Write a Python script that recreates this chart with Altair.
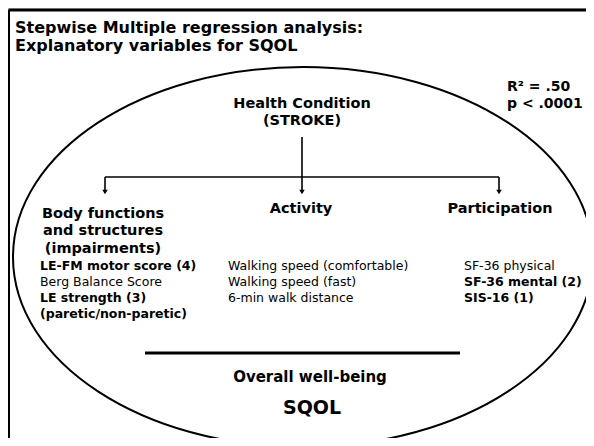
import altair as alt
import pandas as pd

# ---- text content ----
title_lines = ["Stepwise Multiple regression analysis:", "Explanatory variables for SQOL"]
stats_lines = ["R\u00b2 = .50", "p < .0001"]
root_lines = ["Health Condition", "(STROKE)"]
body_header = ["Body functions", "and structures", "(impairments)"]
other_headers = ["Activity", "Participation"]
body_items = ["LE-FM motor score (4)", "Berg Balance Score", "LE strength (3)", "(paretic/non-paretic)"]
body_bold = [True, False, True, True]
activity_items = ["Walking speed (comfortable)", "Walking speed (fast)", "6-min walk distance"]
participation_items = ["SF-36 physical", "SF-36 mental (2)", "SIS-16 (1)"]
participation_bold = [False, True, True]
outcome_lines = ["Overall well-being", "SQOL"]

# ---- layout (page pixel coordinates) ----
W, H = 578, 430
xs = alt.Scale(domain=[8, 8 + W], range=[0, W])
ys = alt.Scale(domain=[8 + H, 8])

item_rows = [270, 286, 302, 318]
FONT = "DejaVu Sans"
ITEM_SIZE = 12.5


def text_layer(texts, xpos, ypos, size, bold, align="left", font=FONT):
    df = pd.DataFrame({"text": texts, "x": xpos, "y": ypos})
    return alt.Chart(df).mark_text(
        align=align, baseline="alphabetic", fontSize=size,
        fontWeight="bold" if bold else "normal", font=font, color="black"
    ).encode(
        x=alt.X("x:Q", scale=xs, axis=None),
        y=alt.Y("y:Q", scale=ys, axis=None),
        text="text:N",
    )


layers = []
layers.append(text_layer(title_lines, [15, 15], [32.5, 50.5], 16, True, font="Comic Sans MS, DejaVu Sans"))
layers.append(text_layer(stats_lines, [507, 507], [91, 108], 14, True))
layers.append(text_layer(root_lines, [302, 302], [108, 125], 14.5, True, align="center"))
layers.append(text_layer(body_header, [103, 103, 103], [218, 235, 253], 14.5, True, align="center"))
layers.append(text_layer(other_headers, [301, 500], [213, 213], 14.5, True, align="center"))

bb = [t for t, b in zip(body_items, body_bold) if b]
bby = [y for y, b in zip(item_rows, body_bold) if b]
bn = [t for t, b in zip(body_items, body_bold) if not b]
bny = [y for y, b in zip(item_rows, body_bold) if not b]
layers.append(text_layer(bb, [40] * len(bb), bby, ITEM_SIZE, True))
layers.append(text_layer(bn, [40] * len(bn), bny, ITEM_SIZE, False))
layers.append(text_layer(activity_items, [228] * 3, item_rows[:3], ITEM_SIZE, False))

pb = [t for t, b in zip(participation_items, participation_bold) if b]
pby = [y for y, b in zip(item_rows, participation_bold) if b]
pn = [t for t, b in zip(participation_items, participation_bold) if not b]
pny = [y for y, b in zip(item_rows, participation_bold) if not b]
layers.append(text_layer(pb, [464] * len(pb), pby, ITEM_SIZE, True))
layers.append(text_layer(pn, [464] * len(pn), pny, ITEM_SIZE, False))

layers.append(text_layer(outcome_lines[:1], [310], [382], 15, True, align="center"))
layers.append(text_layer(outcome_lines[1:], [312], [414], 19, True, align="center"))

# ---- lines ----
def rules(x, x2, y, y2, width):
    df = pd.DataFrame({"x": x, "x2": x2, "y": y, "y2": y2})
    return alt.Chart(df).mark_rule(color="black", strokeWidth=width).encode(
        x=alt.X("x:Q", scale=xs, axis=None), x2="x2:Q",
        y=alt.Y("y:Q", scale=ys, axis=None), y2="y2:Q",
    )

# frame (top and left edges)
layers.append(rules([8.5, 8.5], [594, 8.5], [10, 10], [10, 446], 3))
# tree connector
layers.append(rules([302, 105, 105, 302, 499], [302, 499, 105, 302, 499],
                    [137, 177, 177, 177, 177], [177, 177, 190, 190, 190], 1.6))
# separator line above outcome
layers.append(rules([145], [460], [353], [353], 3))

# arrow heads
heads = pd.DataFrame({"x": [105, 302, 499], "y": [192, 192, 192]})
layers.append(alt.Chart(heads).mark_point(
    shape="triangle-down", size=30, filled=True, color="black", opacity=1
).encode(x=alt.X("x:Q", scale=xs, axis=None), y=alt.Y("y:Q", scale=ys, axis=None)))

# ellipse
ell = pd.DataFrame({"x": [303], "y": [257]})
ell_path = "M-1,0 A1,0.655 0 1,1 1,0 A1,0.655 0 1,1 -1,0 Z"
layers.append(alt.Chart(ell).mark_point(
    shape=ell_path, size=580 ** 2, filled=False, stroke="black", strokeWidth=2, opacity=1
).encode(x=alt.X("x:Q", scale=xs, axis=None), y=alt.Y("y:Q", scale=ys, axis=None)))

chart = alt.layer(*layers).properties(
    width=W, height=H, padding=0, autosize=alt.AutoSizeParams(type="none")
).configure_view(stroke=None).configure(background="white")

chart.save("out.html", embed_options={"renderer": "svg", "actions": False})
